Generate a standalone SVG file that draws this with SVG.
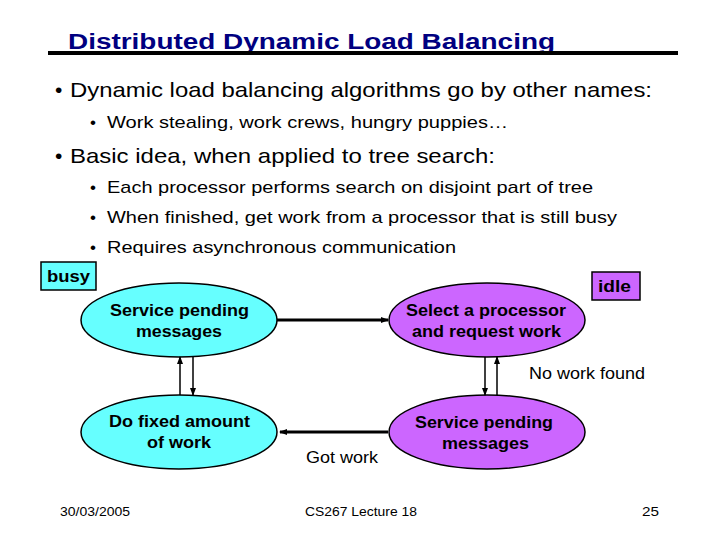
<svg xmlns="http://www.w3.org/2000/svg" width="720" height="540" viewBox="0 0 720 540">
<style>
text{font-family:"Liberation Sans",Arial,sans-serif;fill:#000}
.b{font-weight:bold;font-size:16px}
.c{fill:#66ffff;stroke:#000;stroke-width:1.5}
.p{fill:#cc66ff;stroke:#000;stroke-width:1.5}
.l{stroke:#000;fill:none}
</style>
<defs><marker id="a" markerWidth="8" markerHeight="8" refX="7" refY="4" orient="auto" markerUnits="userSpaceOnUse"><path d="M0,1 L8,4 L0,7 z" fill="#000"/></marker></defs>
<rect width="720" height="540" fill="#fff"/>
<text x="68" y="49" font-size="22" font-weight="bold" style="fill:#000080" textLength="487" lengthAdjust="spacingAndGlyphs">Distributed Dynamic Load Balancing</text>
<line x1="48" y1="53" x2="678" y2="53" stroke="#000" stroke-width="4"/>
<text x="55" y="97" font-size="21">•</text><text x="70" y="97" font-size="21" textLength="582" lengthAdjust="spacingAndGlyphs">Dynamic load balancing algorithms go by other names:</text>
<text x="90" y="128" font-size="17">•</text><text x="107" y="128" font-size="17" textLength="401" lengthAdjust="spacingAndGlyphs">Work stealing, work crews, hungry puppies…</text>
<text x="55" y="163" font-size="21">•</text><text x="70" y="163" font-size="21" textLength="425" lengthAdjust="spacingAndGlyphs">Basic idea, when applied to tree search:</text>
<text x="90" y="193" font-size="17">•</text><text x="107" y="193" font-size="17" textLength="486" lengthAdjust="spacingAndGlyphs">Each processor performs search on disjoint part of tree</text>
<text x="90" y="223" font-size="17">•</text><text x="107" y="223" font-size="17" textLength="510" lengthAdjust="spacingAndGlyphs">When finished, get work from a processor that is still busy</text>
<text x="90" y="253" font-size="17">•</text><text x="107" y="253" font-size="17" textLength="349" lengthAdjust="spacingAndGlyphs">Requires asynchronous communication</text>
<g id="busy"><rect x="41" y="262" width="55" height="28" class="c"/><text x="47" y="282" class="b" textLength="43" lengthAdjust="spacingAndGlyphs">busy</text></g>
<g id="idle"><rect x="592" y="272" width="48" height="28" class="p"/><text x="598" y="292" class="b" textLength="33" lengthAdjust="spacingAndGlyphs">idle</text></g>
<g id="n1"><ellipse cx="179" cy="320" rx="98" ry="37" class="c"/><text x="110" y="316" class="b" textLength="139" lengthAdjust="spacingAndGlyphs">Service pending</text><text x="136" y="337" class="b" textLength="86" lengthAdjust="spacingAndGlyphs">messages</text></g>
<g id="n2"><ellipse cx="487" cy="320" rx="98" ry="37" class="p"/><text x="406" y="316" class="b" textLength="160" lengthAdjust="spacingAndGlyphs">Select a processor</text><text x="412" y="337" class="b" textLength="149" lengthAdjust="spacingAndGlyphs">and request work</text></g>
<g id="n3"><ellipse cx="179" cy="432" rx="98" ry="37" class="c"/><text x="109" y="427" class="b" textLength="141" lengthAdjust="spacingAndGlyphs">Do fixed amount</text><text x="147" y="448" class="b" textLength="64" lengthAdjust="spacingAndGlyphs">of work</text></g>
<g id="n4"><ellipse cx="487" cy="432" rx="98" ry="37" class="p"/><text x="415" y="428" class="b" textLength="138" lengthAdjust="spacingAndGlyphs">Service pending</text><text x="442" y="449" class="b" textLength="87" lengthAdjust="spacingAndGlyphs">messages</text></g>
<g id="edges">
<line x1="277" y1="320" x2="388" y2="320" class="l" stroke-width="3" marker-end="url(#a)"/>
<line x1="388" y1="432" x2="280" y2="432" class="l" stroke-width="3" marker-end="url(#a)"/>
<line x1="180" y1="395" x2="180" y2="357" class="l" stroke-width="1.5" marker-end="url(#a)"/>
<line x1="193" y1="357" x2="193" y2="395" class="l" stroke-width="1.5" marker-end="url(#a)"/>
<line x1="485" y1="357" x2="485" y2="395" class="l" stroke-width="1.5" marker-end="url(#a)"/>
<line x1="497" y1="395" x2="497" y2="357" class="l" stroke-width="1.5" marker-end="url(#a)"/>
</g>
<text x="529" y="379" font-size="16" textLength="116" lengthAdjust="spacingAndGlyphs">No work found</text>
<text x="306" y="463" font-size="16" textLength="72" lengthAdjust="spacingAndGlyphs">Got work</text>
<text x="60" y="516" font-size="13" textLength="70" lengthAdjust="spacingAndGlyphs">30/03/2005</text>
<text x="305" y="516" font-size="13" textLength="112" lengthAdjust="spacingAndGlyphs">CS267 Lecture 18</text>
<text x="642" y="516" font-size="13" textLength="17" lengthAdjust="spacingAndGlyphs">25</text>
</svg>
